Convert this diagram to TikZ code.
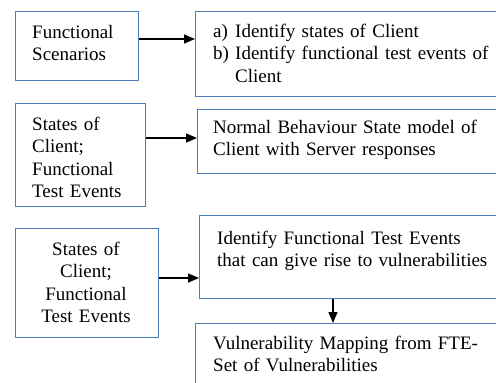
\documentclass[tikz,border=0pt]{standalone}
\usepackage{fontspec}
\setmainfont{Liberation Serif}
\usetikzlibrary{arrows.meta}
\definecolor{boxblue}{HTML}{4A7EBB}
\tikzset{
  x=1pt, y=-1pt,
  box/.style={draw=boxblue, line width=1.4pt, anchor=north west, inner sep=0pt},
  txt/.style={anchor=base west, inner sep=0pt, align=left,
    font=\fontsize{19}{22.5}\selectfont},
  arr/.style={line width=1.5pt, -{Triangle[length=11pt,width=9pt]}}
}
\begin{document}
\begin{tikzpicture}
\path[use as bounding box, clip] (0,0) rectangle (496,383);

% left column
\node[box, minimum width=123pt, minimum height=69pt] (fs) at (15,11) {};
\node[box, minimum width=130pt, minimum height=103pt] (st1) at (15,103) {};
\node[box, minimum width=143pt, minimum height=109pt] (st2) at (15,228) {};

% right column (runs off the right edge)
\node[box, minimum width=310pt, minimum height=85pt] (idf) at (195,11) {};
\node[box, minimum width=310pt, minimum height=64pt] (nbs) at (197,109) {};
\node[box, minimum width=310pt, minimum height=83pt] (fte) at (199,215) {};
\node[box, minimum width=310pt, minimum height=62pt] (vmap) at (195,323) {};

% texts
\node[txt, text width=110pt] (tfs) at (32,38) {Functional\\Scenarios};
\node[txt, text width=115pt] (tst1) at (32,130) {States of\\Client;\\Functional\\Test Events};
\node[txt, anchor=base, align=center, text width=130pt] (tst2) at (86,255) {States of\\Client;\\Functional\\Test Events};
\node[txt, text width=290pt] (tidf) at (213,37)
  {\makebox[22pt][l]{a)}Identify states of Client\\
   \makebox[22pt][l]{b)}Identify functional test events of\\
   \hspace*{22pt}Client};
\node[txt, text width=290pt] (tnbs) at (213,133) {Normal Behaviour State model of\\Client with Server responses};
\node[txt, text width=290pt] (tfte) at (217,244) {Identify Functional Test Events\\that can give rise to vulnerabilities};
\node[txt, text width=290pt] (tvm) at (213,349) {Vulnerability Mapping from FTE-\\Set of Vulnerabilities};

% connectors
\draw[arr] (fs.east |- 0,39) -- (idf.west |- 0,39);
\draw[arr] (st1.east |- 0,138) -- (nbs.west |- 0,138);
\draw[arr] (st2.east |- 0,278) -- (fte.west |- 0,278);
\draw[arr] (fte.south -| 333,0) -- (vmap.north -| 333,0);
\end{tikzpicture}
\end{document}
